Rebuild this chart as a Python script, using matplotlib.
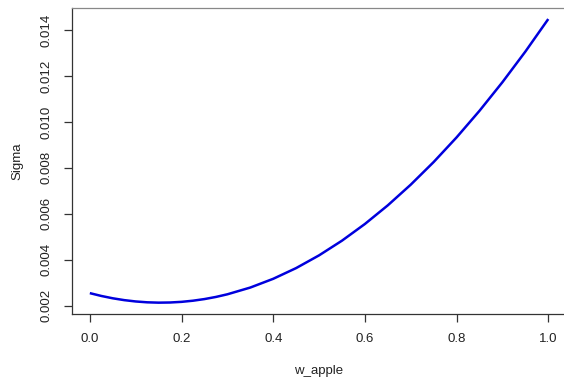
import matplotlib.pyplot as plt

# portfolio weight on apple and the resulting sigma
w_apple = [0.000, 0.025, 0.050, 0.075, 0.100, 0.125, 0.150, 0.175, 0.200, 0.225,
           0.250, 0.275, 0.30, 0.35, 0.40, 0.45, 0.50, 0.55, 0.60, 0.65, 0.70,
           0.75, 0.80, 0.85, 0.90, 0.95, 1.00]
sigma = [0.002540, 0.002417, 0.002315, 0.002235, 0.002177, 0.002140, 0.002125,
         0.002132, 0.002160, 0.002210, 0.002281, 0.002374, 0.002489, 0.002783,
         0.003164, 0.003631, 0.004185, 0.004825, 0.005552, 0.006365, 0.007265,
         0.008251, 0.009324, 0.010483, 0.011729, 0.013061, 0.014480]

x_ticks = [0.0, 0.2, 0.4, 0.6, 0.8, 1.0]
y_ticks = [0.002, 0.004, 0.006, 0.008, 0.010, 0.012, 0.014]

plt.rcParams['font.family'] = ['Liberation Sans', 'DejaVu Sans']

fig = plt.figure(figsize=(5.64, 3.89), dpi=100)
W, H = 564, 389
left, right, top, bottom = 71.5, 566.6, 7.7, 314.0
ax = fig.add_axes([left / W, 1 - bottom / H, (right - left) / W, (bottom - top) / H])

ax.plot(w_apple, sigma, color='#0000dd', lw=1.8, solid_capstyle='butt',
        solid_joinstyle='round')

# R-style 4% padding around the data range
xmin, xmax = min(w_apple), max(w_apple)
ymin, ymax = min(sigma), max(sigma)
dx, dy = 0.04 * (xmax - xmin), 0.04 * (ymax - ymin)
ax.set_xlim(xmin - dx, xmax + dx)
ax.set_ylim(ymin - dy, ymax + dy)

ax.set_xticks(x_ticks)
ax.set_xticklabels([f"{v:.1f}" for v in x_ticks])
ax.set_yticks(y_ticks)
ax.set_yticklabels([f"{v:.3f}" for v in y_ticks], rotation=90, va='center')

ax.tick_params(axis='both', length=5.5, width=0.9, color='#333333',
               labelsize=9.5, labelcolor='#222222', pad=8)

for s in ax.spines.values():
    s.set_color('#333333')
    s.set_linewidth(0.9)
ax.spines['top'].set_color('#888888')

ax.set_xlabel('w_apple', fontsize=9.5, color='#222222', va='center')
ax.set_ylabel('Sigma', fontsize=9.5, color='#222222', va='center')
ax.xaxis.set_label_coords(0.5, (bottom - 370.7) / (bottom - top))
ax.yaxis.set_label_coords((17 - left) / (right - left), 0.5)

fig.savefig('out.png', dpi=100)
